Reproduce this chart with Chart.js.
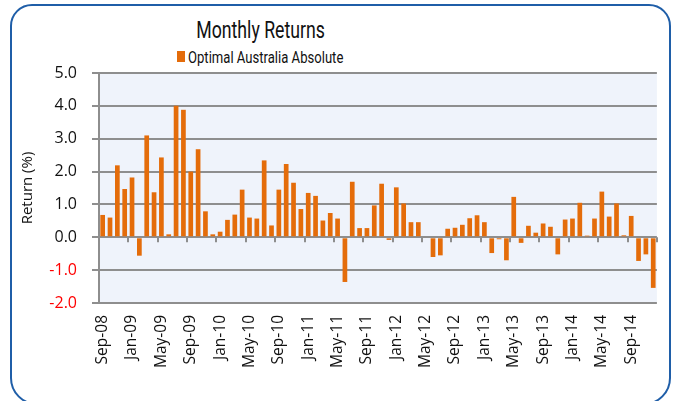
<!DOCTYPE html>
<html lang="en">
<head>
    <meta charset="UTF-8">
    <title>Monthly Returns</title>
    <script src="https://cdn.jsdelivr.net/npm/chart.js"></script>
    <style>
        html, body { margin: 0; padding: 0; background: #fff; }
        #wrap { position: relative; width: 684px; height: 401px; overflow: hidden; }
        #frame {
            position: absolute; left: 10px; top: 4px; width: 657px; height: 397px;
            border: 2px solid #1f5ea8; border-radius: 22px 22px 27px 27px;
        }
        #title {
            position: absolute; left: 0; width: 521px; top: 17px; text-align: center;
            font-family: Roboto, sans-serif; font-size: 23px; line-height: 28px; color: #111; white-space: nowrap;
        }
        #title span { display: inline-block; transform: scaleX(0.77); }
        #legendBox { position: absolute; left: 177px; top: 51px; width: 8px; height: 11px; background: #e46c0a; }
        #legendText {
            position: absolute; left: 188px; top: 46.5px; font-family: Roboto, sans-serif; font-size: 17px;
            line-height: 20px; color: #111; white-space: nowrap; transform: scaleX(0.77); transform-origin: left center;
        }
        canvas { position: absolute; left: 0; top: 0; }
    </style>
</head>
<body>
    <div id="wrap">
        <div id="frame"></div>
        <div id="title"><span>Monthly Returns</span></div>
        <div id="legendBox"></div>
        <div id="legendText">Optimal Australia Absolute</div>
        <canvas id="returnsChart" width="684" height="401"></canvas>
    </div>

    <script>
        const months = [
            'Sep-08', 'Oct-08', 'Nov-08', 'Dec-08',
            'Jan-09', 'Feb-09', 'Mar-09', 'Apr-09', 'May-09', 'Jun-09', 'Jul-09', 'Aug-09', 'Sep-09', 'Oct-09', 'Nov-09', 'Dec-09',
            'Jan-10', 'Feb-10', 'Mar-10', 'Apr-10', 'May-10', 'Jun-10', 'Jul-10', 'Aug-10', 'Sep-10', 'Oct-10', 'Nov-10', 'Dec-10',
            'Jan-11', 'Feb-11', 'Mar-11', 'Apr-11', 'May-11', 'Jun-11', 'Jul-11', 'Aug-11', 'Sep-11', 'Oct-11', 'Nov-11', 'Dec-11',
            'Jan-12', 'Feb-12', 'Mar-12', 'Apr-12', 'May-12', 'Jun-12', 'Jul-12', 'Aug-12', 'Sep-12', 'Oct-12', 'Nov-12', 'Dec-12',
            'Jan-13', 'Feb-13', 'Mar-13', 'Apr-13', 'May-13', 'Jun-13', 'Jul-13', 'Aug-13', 'Sep-13', 'Oct-13', 'Nov-13', 'Dec-13',
            'Jan-14', 'Feb-14', 'Mar-14', 'Apr-14', 'May-14', 'Jun-14', 'Jul-14', 'Aug-14', 'Sep-14', 'Oct-14', 'Nov-14', 'Dec-14'
        ];

        const returns = [
            0.68, 0.60, 2.19, 1.47,
            1.82, -0.56, 3.10, 1.37, 2.43, 0.09, 4.00, 3.88, 2.00, 2.68, 0.79, 0.09,
            0.17, 0.53, 0.69, 1.45, 0.60, 0.57, 2.34, 0.36, 1.45, 2.23, 1.66, 0.86,
            1.35, 1.26, 0.51, 0.74, 0.57, -1.36, 1.69, 0.28, 0.28, 0.97, 1.63, -0.08,
            1.52, 1.03, 0.46, 0.46, 0.00, -0.60, -0.55, 0.26, 0.29, 0.38, 0.58, 0.67,
            0.46, -0.48, -0.06, -0.70, 1.23, -0.17, 0.35, 0.14, 0.42, 0.32, -0.52, 0.54,
            0.57, 1.05, 0.05, 0.57, 1.39, 0.63, 1.03, 0.06, 0.65, -0.72, -0.52, -1.54
        ];

        const yMin = -2;
        const yMax = 5;
        const labelEvery = 4;

        const gridColor = '#8e8e8e';
        const barColor = '#e46c0a';

        // pale blue plot area
        const plotBackground = {
            id: 'plotBackground',
            beforeDraw(chart) {
                const { ctx, chartArea } = chart;
                ctx.save();
                ctx.fillStyle = '#eff3fb';
                ctx.fillRect(chartArea.left, chartArea.top, chartArea.right - chartArea.left, chartArea.bottom - chartArea.top);
                ctx.restore();
            }
        };

        // small tick marks under the zero line, between every 4th month
        const zeroTicks = {
            id: 'zeroTicks',
            afterDatasetsDraw(chart) {
                const { ctx, scales } = chart;
                const x = scales.x;
                const y0 = scales.y.getPixelForValue(0);
                const step = (x.getPixelForValue(1) - x.getPixelForValue(0));
                ctx.save();
                ctx.strokeStyle = gridColor;
                ctx.lineWidth = 2;
                for (let i = labelEvery; i <= months.length; i += labelEvery) {
                    const px = Math.round(x.getPixelForValue(i - 1) + step / 2);
                    ctx.beginPath();
                    ctx.moveTo(px, y0);
                    ctx.lineTo(px, y0 + 5);
                    ctx.stroke();
                }
                ctx.restore();
            }
        };

        const ctx = document.getElementById('returnsChart').getContext('2d');
        new Chart(ctx, {
            type: 'bar',
            data: {
                labels: months,
                datasets: [{
                    label: 'Optimal Australia Absolute',
                    data: returns,
                    backgroundColor: barColor,
                    borderWidth: 0,
                    categoryPercentage: 1,
                    barPercentage: 0.64
                }]
            },
            options: {
                responsive: false,
                animation: false,
                layout: {
                    padding: { left: 15, right: 27, top: 73, bottom: 18 }
                },
                plugins: {
                    legend: { display: false },
                    title: { display: false },
                    tooltip: { enabled: false }
                },
                scales: {
                    x: {
                        grid: { display: false, drawTicks: false },
                        border: { display: false },
                        afterFit(scale) { scale.height = 80; },
                        ticks: {
                            autoSkip: false,
                            minRotation: 90,
                            maxRotation: 90,
                            padding: 12,
                            color: '#111',
                            font: { family: 'Open Sans', size: 15.5 },
                            callback: function(value, index) {
                                return index % labelEvery === 0 ? months[index] : '';
                            }
                        }
                    },
                    y: {
                        min: yMin,
                        max: yMax,
                        afterFit(scale) { scale.width = 84; },
                        grid: {
                            color: gridColor,
                            lineWidth: 2,
                            tickLength: 7
                        },
                        border: { display: true, color: gridColor, width: 2 },
                        ticks: {
                            stepSize: 1,
                            padding: 15,
                            font: { family: 'Open Sans', size: 16 },
                            color: (c) => c.tick && c.tick.value < 0 ? '#ff0000' : '#111',
                            callback: (v) => v.toFixed(1)
                        },
                        title: {
                            display: true,
                            text: 'Return (%)',
                            color: '#111',
                            font: { family: 'Open Sans', size: 15 }
                        }
                    }
                }
            },
            plugins: [plotBackground, zeroTicks]
        });
    </script>
</body>
</html>
